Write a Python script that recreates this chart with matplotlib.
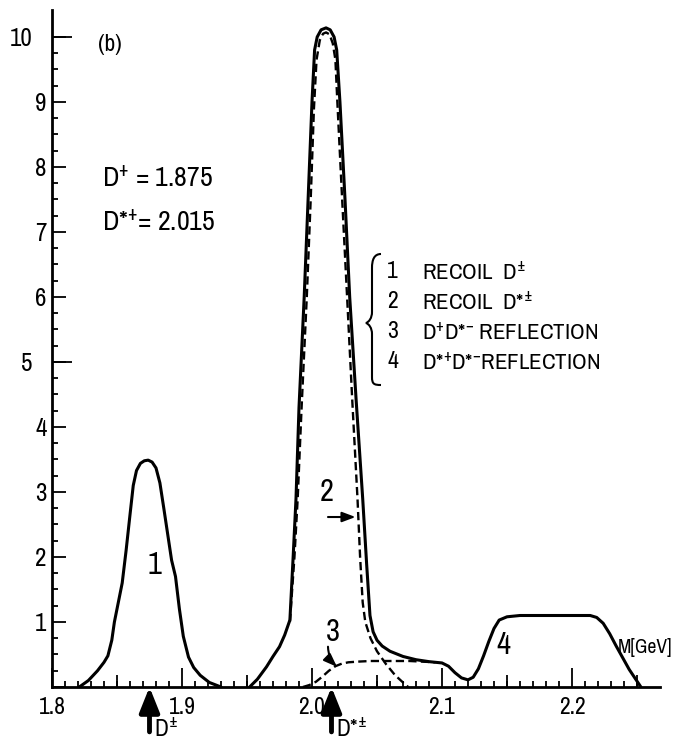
import numpy as np
import matplotlib
matplotlib.use("Agg")
import matplotlib.pyplot as plt
from matplotlib.path import Path
from matplotlib.patches import PathPatch
from matplotlib.transforms import Affine2D
from matplotlib.ticker import FixedLocator

plt.rcParams['font.family'] = ['Archivo Narrow', 'DejaVu Sans']
plt.rcParams['mathtext.fontset'] = 'custom'
plt.rcParams['mathtext.rm'] = 'Archivo Narrow'
plt.rcParams['mathtext.it'] = 'Archivo Narrow'
plt.rcParams['mathtext.bf'] = 'Archivo Narrow:bold'

# solid curve, first peak (recoil D+-)
m_peak1 = [1.821, 1.828, 1.835, 1.840, 1.843, 1.846, 1.848, 1.851, 1.854, 1.857, 1.860, 1.8625,
           1.865, 1.868, 1.871, 1.874, 1.877, 1.880, 1.883, 1.886, 1.889, 1.892, 1.895, 1.898,
           1.901, 1.905, 1.909, 1.914, 1.921, 1.930]
n_peak1 = [0, 0.10, 0.25, 0.38, 0.48, 0.72, 1.0, 1.3, 1.6, 2.1, 2.65, 3.1,
           3.33, 3.44, 3.48, 3.49, 3.46, 3.37, 3.14, 2.75, 2.35, 1.95, 1.7, 1.2,
           0.78, 0.46, 0.3, 0.18, 0.07, 0]

# solid curve, rest (total)
m_total = [1.952, 1.958, 1.965, 1.970, 1.975, 1.979, 1.983, 1.9855, 1.9877, 1.990, 1.994, 1.997,
           2.000, 2.002, 2.004, 2.007, 2.0108, 2.014, 2.017, 2.019, 2.0215, 2.0254, 2.029, 2.034,
           2.039, 2.042, 2.0446, 2.047, 2.050, 2.054, 2.060, 2.070, 2.080, 2.090, 2.100, 2.105,
           2.110, 2.115, 2.120, 2.124, 2.128, 2.132, 2.136, 2.140, 2.144, 2.150, 2.160, 2.180,
           2.200, 2.214, 2.219, 2.224, 2.229, 2.234, 2.239, 2.244, 2.249, 2.253]
n_total = [0, 0.12, 0.31, 0.47, 0.62, 0.8, 1.03, 2.0, 2.9, 4.3, 6.0, 7.5,
           9.0, 9.8, 10.0, 10.11, 10.14, 10.11, 10.0, 9.8, 9.0, 7.5, 6.0, 4.4,
           2.9, 1.9, 1.1, 0.85, 0.72, 0.63, 0.55, 0.47, 0.42, 0.39, 0.37, 0.32,
           0.22, 0.14, 0.11, 0.15, 0.28, 0.48, 0.7, 0.9, 1.03, 1.08, 1.1, 1.1,
           1.1, 1.1, 1.07, 0.98, 0.82, 0.63, 0.45, 0.27, 0.12, 0]

# dashed: recoil D*+-
m_recoil = [1.983, 1.9865, 1.989, 1.992, 1.996, 1.999, 2.0015, 2.0035, 2.006, 2.0085, 2.0108,
            2.0135, 2.016, 2.018, 2.0195, 2.0232, 2.027, 2.031, 2.035, 2.037, 2.039, 2.041,
            2.045, 2.050, 2.057, 2.064, 2.070, 2.074]
n_recoil = [1.0, 2.0, 2.9, 4.3, 6.0, 7.5, 8.9, 9.65, 9.95, 10.05, 10.07,
            10.04, 9.9, 9.65, 9.0, 7.5, 6.0, 4.4, 2.9, 2.0, 1.3, 1.0,
            0.75, 0.55, 0.35, 0.18, 0.07, 0]

# dashed: D+ D*- reflection
m_refl = [1.993, 1.998, 2.003, 2.008, 2.013, 2.018, 2.023, 2.028, 2.035, 2.045, 2.055, 2.065,
          2.075, 2.085, 2.095]
n_refl = [0, 0.03, 0.08, 0.16, 0.25, 0.32, 0.36, 0.38, 0.39, 0.40, 0.40, 0.40,
          0.40, 0.39, 0.38]

x_ticks = [1.8, 1.9, 2.0, 2.1, 2.2]
x_labels = ['1.8', '1.9', '2.0', '2.1', '2.2']
y_ticks = list(range(0, 11))
y_labels = ['', '1', '2', '3', '4', '', '6', '7', '8', '9', '']

legend_nums = ['1', '2', '3', '4']
legend_texts = [r'RECOIL  D$^{\pm}$', r'RECOIL  D*$^{\pm}$',
                r'D$^{+}$D*$^{-}$ REFLECTION', r'D*$^{+}$D*$^{-}$REFLECTION']

fig = plt.figure(figsize=(6.74, 7.42), dpi=100)
ax = fig.add_axes([52 / 674, 55 / 742, 608 / 674, 677 / 742])

ax.plot(m_peak1, n_peak1, color='black', lw=2.2, solid_joinstyle='round', solid_capstyle='round')
ax.plot(m_total, n_total, color='black', lw=2.2, solid_joinstyle='round', solid_capstyle='round')
ax.plot(m_recoil, n_recoil, color='black', lw=1.7, dashes=[3.5, 1.8])
ax.plot(m_refl, n_refl, color='black', lw=1.7, dashes=[3.5, 1.8])

ax.set_xlim(1.8, 2.2677)
ax.set_ylim(0, 10.415)
for s in ['top', 'right']:
    ax.spines[s].set_visible(False)
for s in ['left', 'bottom']:
    ax.spines[s].set_linewidth(2)

ax.set_xticks(x_ticks, labels=x_labels)
ax.xaxis.set_minor_locator(FixedLocator(np.arange(1.81, 2.255, 0.01)))
ax.tick_params(axis='x', which='major', direction='in', length=14, width=1.3, pad=7, labelsize=17)
ax.tick_params(axis='x', which='minor', direction='in', length=4.5, width=1.3)
ax.set_yticks(y_ticks, labels=y_labels)
ax.yaxis.set_minor_locator(FixedLocator(np.arange(0.25, 10, 0.25)))
ax.tick_params(axis='y', which='major', direction='in', length=10, width=1.3, pad=4, labelsize=18)
ax.tick_params(axis='y', which='minor', direction='in', length=4, width=1.3)

# longer ticks at 0.05 on x, and at 5/10 on y
sec_x = ax.secondary_xaxis('bottom')
sec_x.set_xticks([1.85, 1.95, 2.05, 2.15, 2.25], labels=[''] * 5)
sec_x.tick_params(direction='in', length=9, width=1.3)
sec_x.spines['bottom'].set_visible(False)
sec_y = ax.secondary_yaxis('left')
sec_y.set_yticks([5, 10], labels=['5', '10'])
sec_y.tick_params(direction='in', length=14.5, width=1.3, pad=14, labelsize=18)
sec_y.spines['left'].set_visible(False)

# texts
ax.text(1.8354, 9.89, '(b)', fontsize=17, ha='left', va='center')
ax.text(1.8385, 7.83, r'D$^{+}$ = 1.875', fontsize=20, ha='left', va='center')
ax.text(1.8385, 7.15, r'D*$^{+}$= 2.015', fontsize=20, ha='left', va='center')

leg_y = [6.385, 5.923, 5.462, 5.0]
for num, txt, yy in zip(legend_nums, legend_texts, leg_y):
    ax.text(2.0577, yy, num, fontsize=17, ha='left', va='center')
    ax.text(2.0846, yy, txt, fontsize=16.5, ha='left', va='center')

# brace in figure pixel coords (y down)
pix = Affine2D().scale(1 / 674, -1 / 742).translate(0, 1) + fig.transFigure
verts = [(381, 254), (374, 254), (372, 260), (372, 268), (372, 312),
         (372, 318), (369, 322), (366, 323), (369, 324), (372, 328), (372, 334),
         (372, 377), (372, 384), (374, 385), (381, 385)]
codes = [Path.MOVETO, Path.CURVE4, Path.CURVE4, Path.CURVE4, Path.LINETO,
         Path.CURVE4, Path.CURVE4, Path.CURVE4, Path.CURVE4, Path.CURVE4, Path.CURVE4,
         Path.LINETO, Path.CURVE4, Path.CURVE4, Path.CURVE4]
fig.patches.append(PathPatch(Path(verts, codes), transform=pix, fill=False, lw=1.5, color='black'))

# curve labels
ax.text(1.879, 1.88, '1', fontsize=22, ha='center', va='center')
ax.text(2.011, 3.0, '2', fontsize=22, ha='center', va='center')
ax.text(2.0162, 0.85, '3', fontsize=22, ha='center', va='center')
ax.text(2.147, 0.65, '4', fontsize=22, ha='center', va='center')
ax.annotate('', xy=(2.0335, 2.615), xytext=(2.0123, 2.615),
            arrowprops=dict(arrowstyle='-|>,head_length=0.8,head_width=0.3', lw=1.5, color='black',
                            shrinkA=0, shrinkB=0))
ax.annotate('', xy=(2.0192, 0.31), xytext=(2.0123, 0.62),
            arrowprops=dict(arrowstyle='-|>,head_length=0.8,head_width=0.3', lw=1.5, color='black',
                            shrinkA=0, shrinkB=0, connectionstyle='arc3,rad=0.2'))
ax.text(2.2354, 0.615, 'M[GeV]', fontsize=14, ha='left', va='center')

# mass arrows under the axis
for xm, lab in [(1.875, r'D$^{\pm}$'), (2.015, r'D*$^{\pm}$')]:
    ax.annotate('', xy=(xm, 0), xytext=(xm, -0.69), annotation_clip=False,
                arrowprops=dict(arrowstyle='-|>,head_length=1.5,head_width=0.6', lw=3.5,
                                color='black', shrinkA=0, shrinkB=0))
    ax.text(xm + 0.0035, -0.77, lab, fontsize=17, ha='left', va='baseline', clip_on=False)

fig.savefig('out.png', dpi=100)
